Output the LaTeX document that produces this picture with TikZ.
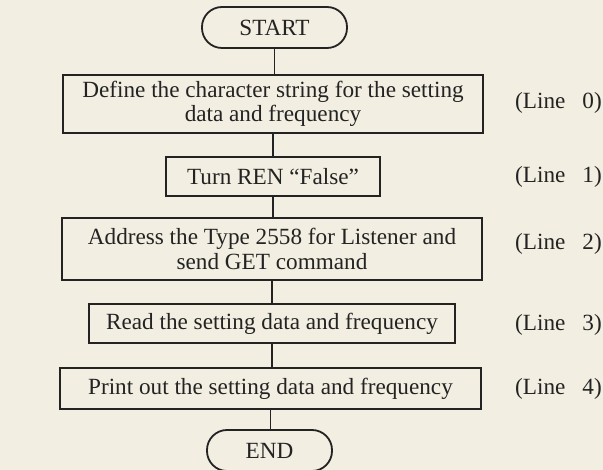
\documentclass[tikz,border=0pt]{standalone}
\usepackage{fontspec}
\setmainfont{Liberation Serif}
\definecolor{paper}{RGB}{242,238,225}
\definecolor{ink}{RGB}{35,35,35}
\tikzset{
  box/.style={draw=ink, line width=1.8pt, rectangle, inner sep=0pt, align=center, text=ink,
              font=\fontsize{23.2}{24.5}\selectfont},
  term/.style={box, rounded corners=20pt},
  lbl/.style={anchor=east, inner sep=0pt, text=ink, font=\fontsize{23.2}{24.5}\selectfont},
  conn/.style={draw=ink, line width=1.4pt}
}
\begin{document}
\begin{tikzpicture}[x=1pt,y=-1pt]
\fill[paper] (0,0) rectangle (603,470);
\useasboundingbox (0,0) rectangle (603,470);
\node[term, minimum width=145pt, minimum height=41pt] (start) at (274.5,27.5) {START};
\node[box, minimum width=420pt, minimum height=58pt] (b0) at (273,104) {Define the character string for the setting\\data and frequency};
\node[box, minimum width=214pt, minimum height=39pt] (b1) at (273,176.5) {Turn REN ``False''};
\node[box, minimum width=420pt, minimum height=62pt] (b2) at (272,249) {Address the Type 2558 for Listener and\\send GET command};
\node[box, minimum width=366pt, minimum height=39pt] (b3) at (272,323.5) {Read the setting data and frequency};
\node[box, minimum width=421pt, minimum height=41pt] (b4) at (270.5,388.5) {Print out the setting data and frequency};
\node[term, minimum width=125pt, minimum height=41pt] (end) at (269.5,450.5) {END};
\node[lbl] (l0) at (602,103) {(Line\hspace{17pt}0)};
\node[lbl] (l1) at (602,176.5) {(Line\hspace{17pt}1)};
\node[lbl] (l2) at (602,244) {(Line\hspace{17pt}2)};
\node[lbl] (l3) at (602,325) {(Line\hspace{17pt}3)};
\node[lbl] (l4) at (602,388.5) {(Line\hspace{17pt}4)};
\draw[conn] (start.south) -- (start.south |- b0.north);
\draw[conn] (b0.south) -- (b0.south |- b1.north);
\draw[conn] (b1.south) -- (b1.south |- b2.north);
\draw[conn] (b2.south) -- (b2.south |- b3.north);
\draw[conn] (b3.south) -- (b3.south |- b4.north);
\draw[conn] (b4.south) -- (b4.south |- end.north);
\end{tikzpicture}
\end{document}
